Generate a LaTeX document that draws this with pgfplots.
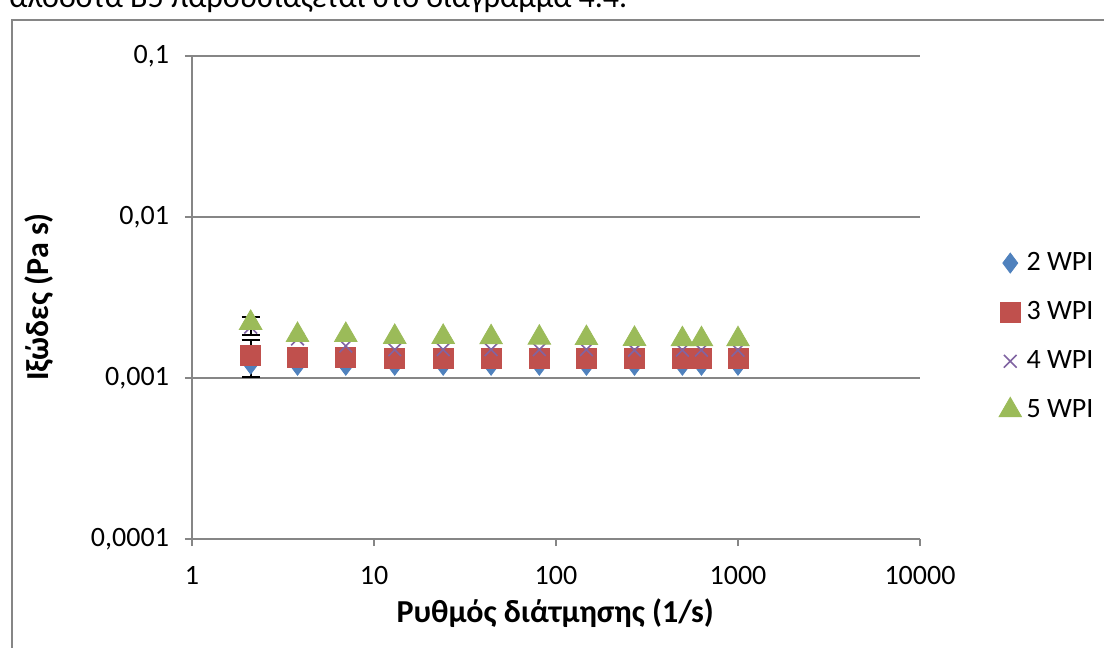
\documentclass[border=0pt]{standalone}
\usepackage{pgfplots}
\pgfplotsset{compat=1.18}
\usepackage{fontspec}
\setmainfont{Carlito}
\definecolor{cblue}{HTML}{4F81BD}
\definecolor{cred}{HTML}{C0504D}
\definecolor{cpurple}{HTML}{8064A2}
\definecolor{cgreen}{HTML}{9BBB59}
\definecolor{gridgray}{RGB}{134,134,134}
\newcommand{\tickfont}{\fontsize{14}{17}\selectfont}
\newcommand{\legfont}{\fontsize{14}{17}\selectfont}
\newcommand{\labfont}{\bfseries\fontsize{16}{19}\selectfont}
\begin{document}
\begin{tikzpicture}
\useasboundingbox (0,0) rectangle (552pt,324pt);
\clip (0,0) rectangle (552pt,324pt);
\node[anchor=base west, inner sep=0, font=\fontsize{16}{19}\selectfont] at (4.5pt,320pt) {αλόδοτα Β5 παρουσιάζεται στο διάγραμμα 4.4.};
\draw[gridgray, line width=1pt] (6pt,314pt) rectangle (600pt,-20pt);
\begin{axis}[
  at={(96pt,54.5pt)}, anchor=south west,
  scale only axis, width=364pt, height=241.5pt,
  xmode=log, ymode=log,
  xmin=1, xmax=10000, ymin=0.0001, ymax=0.1,
  axis x line*=bottom, axis y line*=left,
  axis line style={gridgray, line width=1pt},
  xtick={1,10,100,1000,10000},
  xticklabels={1,10,100,1000,10000},
  ytick={0.0001,0.001,0.01,0.1},
  yticklabels={{0,0001},{0,001},{0,01},{0,1}},
  xminorticks=false, yminorticks=false,
  tick align=outside, major tick length=3.5pt,
  tick style={gridgray, line width=1pt},
  ymajorgrids, major grid style={gridgray, line width=1pt},
  tick label style={font=\tickfont, black},
  xticklabel style={yshift=-6.5pt},
  yticklabel style={xshift=-4.5pt},
  xlabel={Ρυθμός διάτμησης (1/s)},
  ylabel={Ιξώδες (Pa s)},
  label style={font=\labfont},
  xlabel style={at={(axis description cs:0.499,-0.153)}, anchor=center},
  ylabel style={at={(axis description cs:-0.21,0.501)}, anchor=center, rotate=0},
  legend style={at={(1.108,0.419)}, anchor=west, draw=none, fill=none,
    font=\legfont, row sep=10pt, inner sep=0pt, nodes={inner xsep=2.5pt}},
  legend cell align=left,
  clip=false,
]
\addplot[only marks, mark=diamond*, mark size=5pt, color=cblue, mark options={fill=cblue}] coordinates {
(2.1,0.00122) (3.8,0.00120) (7,0.00120) (13,0.00120) (24,0.00120) (44,0.00120)
(81,0.00120) (147,0.00120) (270,0.00120) (495,0.00120) (630,0.00120) (1000,0.00120)};
\addlegendentry{2 WPI}
\addplot[only marks, mark=square*, mark size=5pt, color=cred, mark options={fill=cred}] coordinates {
(2.1,0.00138) (3.8,0.00134) (7,0.00134) (13,0.00133) (24,0.00133) (44,0.00133)
(81,0.00133) (147,0.00133) (270,0.00132) (495,0.00132) (630,0.00132) (1000,0.00132)};
\addlegendentry{3 WPI}
\addplot[only marks, mark=x, mark size=4.5pt, color=cpurple, mark options={line width=0.8pt}] coordinates {
(2.1,0.00207) (3.8,0.00175) (7,0.00158) (13,0.00150) (24,0.00150) (44,0.00150)
(81,0.00150) (147,0.00150) (270,0.00149) (495,0.00149) (630,0.00149) (1000,0.00149)};
\addlegendentry{4 WPI}
\addplot[only marks, mark=triangle*, mark size=6.5pt, color=cgreen, mark options={fill=cgreen}] coordinates {
(2.1,0.00220) (3.8,0.00185) (7,0.00185) (13,0.00180) (24,0.00180) (44,0.00179)
(81,0.00178) (147,0.00177) (270,0.00175) (495,0.00174) (630,0.00174) (1000,0.00174)};
\addlegendentry{5 WPI}
\addplot[draw=none, mark=none, forget plot,
  error bars/.cd, y dir=both, y explicit,
  error bar style={draw=black, line width=1pt},
  error mark options={rotate=90, mark size=4.5pt, draw=black, line width=1pt}] coordinates {
(2.1,0.00138) += (0,0.00034) -= (0,0.00037)
(2.1,0.00207) += (0,0.00033) -= (0,0.00022)};
\end{axis}
\end{tikzpicture}
\end{document}
